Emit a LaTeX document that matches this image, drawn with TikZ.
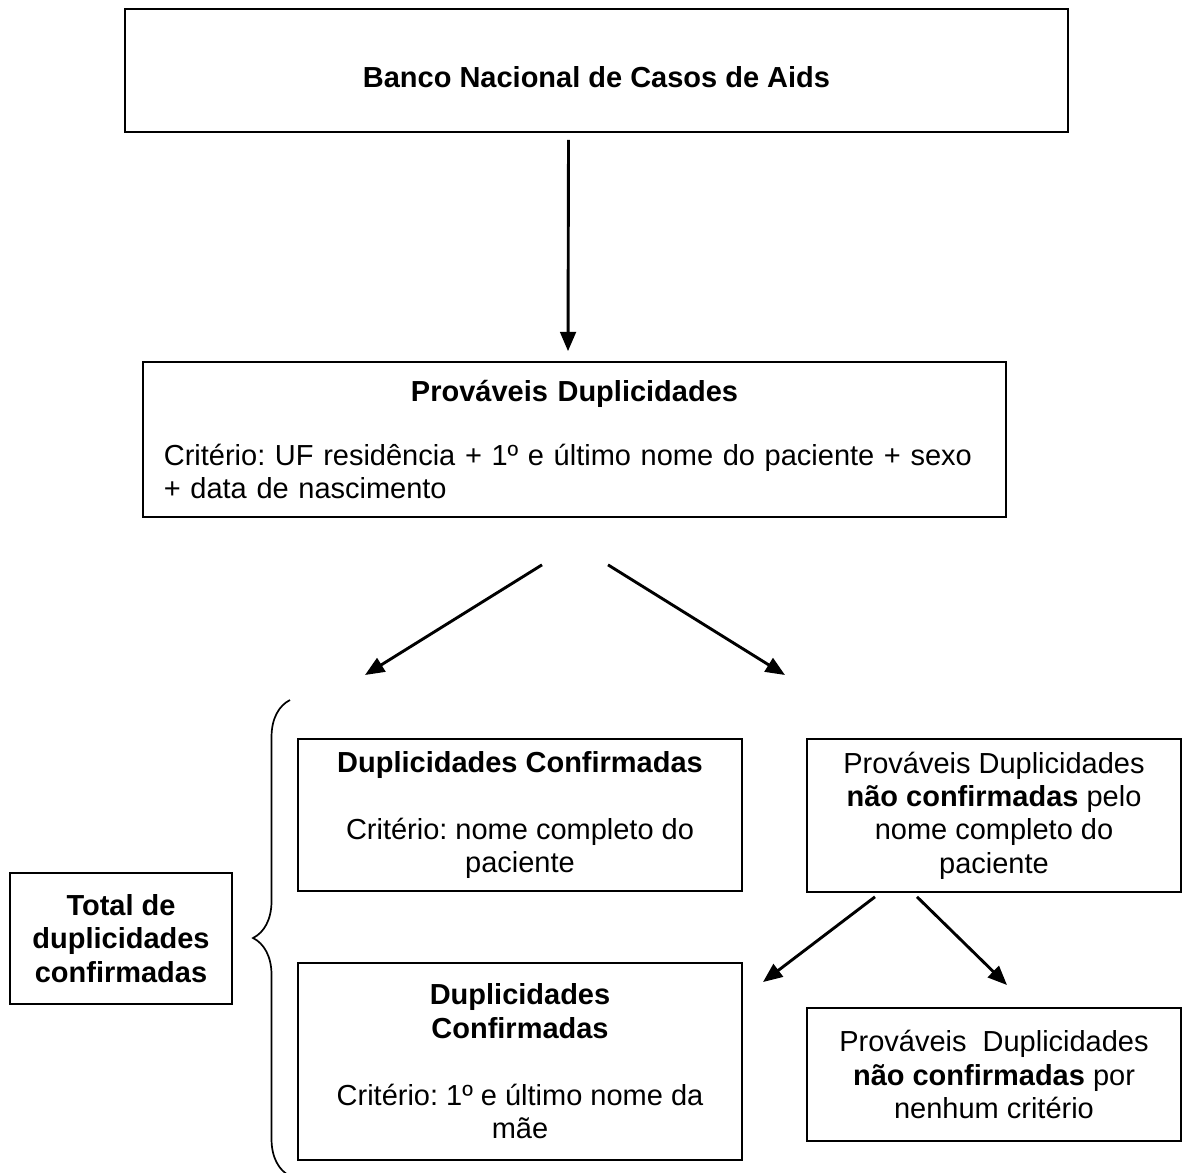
\documentclass[tikz,border=0pt]{standalone}
\usepackage{fontspec}
\setmainfont{Liberation Sans}
\usetikzlibrary{%
    arrows.meta,
    calc,
    decorations.pathreplacing
}
\tikzset{box/.style = {draw, line width=.7pt, inner sep=0pt, align=center}}
\tikzset{boxsize/.style 2 args = {minimum width=#1*.414pt, minimum height=#2*.414pt}}
\tikzset{flowarrow/.style = {line width=1.2pt, -{Triangle[length=8pt,width=6.5pt]}}}

\begin{document}
\frenchspacing
\begin{tikzpicture}[x=0.414pt, y=-0.414pt, font=\fontsize{12}{13.8}\selectfont]
    \useasboundingbox (0,0) rectangle (1185,1173);

    \node[box, boxsize={943}{123}, text height=14.5pt] (banco) at (596.5,70.5)
        {\bfseries Banco Nacional de Casos de Aids};
    \node[box, boxsize={863}{155}, text width=340pt, align=left] (prov) at (574.5,439.5)
        {{\centering\bfseries Prováveis Duplicidades\par}\vspace{12.5pt}%
         Critério: UF residência + 1º e último nome do paciente + sexo\\
         + data de nascimento};

    \node[box, boxsize={444}{152}] (conf1) at (520,815)
        {\textbf{Duplicidades Confirmadas}\\[14pt]
         Critério: nome completo do\\ paciente};
    \node[box, boxsize={374}{153}] (naoconf1) at (994,815.5)
        {Prováveis Duplicidades\\ \textbf{não confirmadas} pelo\\
         nome completo do\\ paciente};
    \node[box, boxsize={444}{197}] (conf2) at (520,1061.5)
        {\textbf{Duplicidades}\\ \textbf{Confirmadas}\\[14pt]
         Critério: 1º e último nome da\\ mãe};
    \node[box, boxsize={374}{133}] (naoconf2) at (994,1074.5)
        {Prováveis\ \ Duplicidades\\ \textbf{não confirmadas} por\\
         nenhum critério};
    \node[box, boxsize={222}{131}, font=\fontsize{12}{13.8}\selectfont\bfseries] (total) at (121,938.5)
        {Total de\\ duplicidades\\ confirmadas};

    \coordinate (esq) at (365,675);
    \coordinate (dir) at (785,675);
    \coordinate (esq2) at (763,982);
    \coordinate (dir2) at (1007,985);
    \coordinate (chavetop) at (290,700);
    \coordinate (chavebot) at (290,1176);

    \draw[flowarrow] ($(banco.south)+(-28,7)$) -- ($(prov.north)+(-6.5,-10)$);
    \draw[flowarrow] ($(prov.south)+(-32.5,47)$) -- (esq);
    \draw[flowarrow] ($(prov.south)+(33.5,47)$) -- (dir);
    \draw[flowarrow] ($(naoconf1.south)+(-119,4)$) -- (esq2);
    \draw[flowarrow] ($(naoconf1.south)+(-77,4)$) -- (dir2);

    \draw[line width=.7pt, decorate, decoration={brace, amplitude=15.3pt}]
        (chavebot) -- (chavetop);
\end{tikzpicture}
\end{document}
